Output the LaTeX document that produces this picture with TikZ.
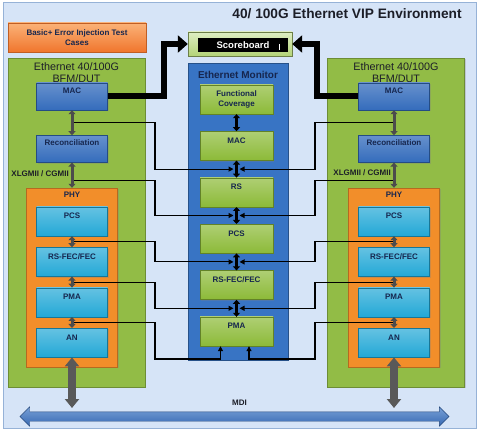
\documentclass[tikz,border=0pt]{standalone}
\usepackage{fontspec}
\setmainfont{Liberation Sans}
\usetikzlibrary{shapes,arrows.meta,calc,positioning,shadows}

\definecolor{envbg}{RGB}{214,228,247}
\definecolor{envline}{RGB}{150,178,215}
\definecolor{bfmgreen}{RGB}{146,188,70}
\definecolor{phyorange}{RGB}{242,142,42}
\definecolor{macblue}{RGB}{52,108,188}
\definecolor{pcscyan}{RGB}{35,168,214}
\definecolor{monblue}{RGB}{56,116,196}
\definecolor{mongreen}{RGB}{140,186,56}
\definecolor{testtop}{RGB}{251,178,120}
\definecolor{testbot}{RGB}{240,118,45}
\definecolor{sbtop}{RGB}{222,238,195}
\definecolor{sbbot}{RGB}{180,212,120}
\definecolor{navytext}{RGB}{22,38,78}
\definecolor{darktext}{RGB}{28,30,40}
\definecolor{mditop}{RGB}{120,160,215}
\definecolor{mdibot}{RGB}{55,105,178}

\begin{document}
\begin{tikzpicture}[x=1pt, y=1pt,
  shdw/.style={drop shadow={opacity=0.3, shadow xshift=1.2pt, shadow yshift=-1.2pt}},
  boxfont/.style={font=\fontsize{8}{10}\selectfont\bfseries, text=navytext},
  envtitle/.style={inner sep=0pt, font=\fontsize{13.7}{16}\selectfont\bfseries, text=darktext},
  testbox/.style={rectangle, draw=testbot!80!black, top color=testtop, bottom color=testbot,
    minimum width=138pt, minimum height=29pt, inner sep=0pt, align=center, boxfont, shdw},
  sbframe/.style={rectangle, draw=sbbot!60!black, top color=sbtop, bottom color=sbbot,
    minimum width=104pt, minimum height=24pt, inner sep=0pt, shdw},
  sbinner/.style={rectangle, fill=black, text=white, minimum width=90pt, minimum height=14pt,
    inner sep=0pt, font=\fontsize{9.5}{11}\selectfont\bfseries},
  bfm/.style={rectangle, draw=bfmgreen!75!black, fill=bfmgreen, minimum width=137pt,
    minimum height=329pt, shdw},
  bfmtitle/.style={inner sep=0pt, align=center, font=\fontsize{10.8}{12}\selectfont, text=darktext},
  phybox/.style={rectangle, draw=phyorange!75!black, fill=phyorange, minimum width=91pt,
    inner xsep=0pt, inner ysep=2pt, text height=8pt, text depth=167pt, boxfont, shdw},
  macbox/.style={rectangle, draw=macblue!70!black, top color=macblue!75!white, bottom color=macblue,
    minimum width=71pt, inner xsep=0pt, inner ysep=2pt, text height=8.5pt, text depth=14.5pt,
    boxfont, shdw},
  pcsbox/.style={rectangle, draw=pcscyan!70!black, top color=pcscyan!70!white, bottom color=pcscyan,
    minimum width=71pt, inner xsep=0pt, inner ysep=2pt, text height=10pt, text depth=15pt,
    boxfont, shdw},
  ifname/.style={inner sep=0pt, boxfont, text=darktext},
  monbox/.style={rectangle, draw=monblue!70!black, fill=monblue, minimum width=100pt,
    minimum height=297pt, shdw},
  montitle/.style={inner sep=0pt, font=\fontsize{10}{12}\selectfont\bfseries, text=navytext},
  mbox/.style={rectangle, draw=mongreen!70!black, top color=mongreen!70!white, bottom color=mongreen,
    minimum width=73pt, inner xsep=0pt, inner ysep=2pt, text height=10pt, text depth=15pt,
    boxfont, shdw},
  fcbox/.style={rectangle, draw=mongreen!70!black, top color=mongreen!70!white, bottom color=mongreen,
    minimum width=73pt, minimum height=29pt, inner sep=0pt, align=center, boxfont, shdw},
  mdibus/.style={double arrow, double arrow head extend=5pt, minimum height=429pt,
    inner xsep=0pt, inner ysep=4.5pt, draw=mdibot!70!black, top color=mditop, bottom color=mdibot},
  monlink/.style={line width=1.1pt, black, ->, >={Triangle[width=5pt,length=5pt]}},
  bfmarrow/.style={line width=3pt, black!70, <->, >={Triangle[width=7pt,length=4pt]}},
  monarrow/.style={line width=2.5pt, black, <->, >={Triangle[width=7pt,length=4pt]}},
  sbarrow/.style={line width=6pt, black, line join=miter, ->, >={Triangle[width=17pt,length=10pt]}},
  mdiarrow/.style={line width=8pt, black!65, <->, >={Triangle[width=14pt,length=9pt]}}
  ]
  \useasboundingbox (0,0) rectangle (480,-433);
  \draw[fill=envbg, draw=envline, line width=1pt] (3,-3) rectangle (476,-428);

  \node[envtitle] (title) at (347,-14) {40/ 100G Ethernet VIP Environment};
  \node[testbox] (tests) at (77,-37.5) {Basic+ Error Injection Test\\Cases};

  % scoreboard
  \node[sbframe] (sbox) at (240,-44) {};
  \node[sbinner] (score) at (243,-45) {Scoreboard\hspace{6pt}};
  \draw[white, line width=1pt] ([xshift=-9pt,yshift=1pt]score.east) -- ++(0,-6);

  % left BFM/DUT
  \node[bfm] (lbfm) at (76.5,-222.5) {};
  \node[bfmtitle, below=5pt of lbfm.north] (lbfmtl) {Ethernet 40/100G\\BFM/DUT};
  \node[macbox] (lmac) at (72,-96.5) {MAC};
  \node[macbox, below=25pt of lmac] (lrec) {Reconciliation};
  \node[phybox] (lphy) at (72,-277.5) {PHY};
  \node[pcsbox] (lpcs) at (72,-221.5) {PCS};
  \node[pcsbox, below=11pt of lpcs] (lfec) {RS-FEC/FEC};
  \node[pcsbox, below=11pt of lfec] (lpma) {PMA};
  \node[pcsbox, below=11pt of lpma] (lan) {AN};

  % right BFM/DUT
  \node[bfm] (rbfm) at (396,-222.5) {};
  \node[bfmtitle, below=5pt of rbfm.north] (rbfmtl) {Ethernet 40/100G\\BFM/DUT};
  \node[macbox] (rmac) at (394,-96.5) {MAC};
  \node[macbox, below=25pt of rmac] (rrec) {Reconciliation};
  \node[phybox] (rphy) at (394,-277.5) {PHY};
  \node[pcsbox] (rpcs) at (394,-221.5) {PCS};
  \node[pcsbox, below=11pt of rpcs] (rfec) {RS-FEC/FEC};
  \node[pcsbox, below=11pt of rfec] (rpma) {PMA};
  \node[pcsbox, below=11pt of rpma] (ran) {AN};

  % monitor
  \node[monbox] (mon) at (238,-211.5) {};
  \node[montitle, below=8.5pt of mon.north] (montl) {Ethernet Monitor};
  \node[fcbox] (mfc) at (236.5,-99.5) {Functional\\Coverage};
  \node[mbox, below=17pt of mfc] (mmac) {MAC};
  \node[mbox, below=17pt of mmac] (mrs) {RS};
  \node[mbox, below=17pt of mrs] (mpcs) {PCS};
  \node[mbox, below=17pt of mpcs] (mfec) {RS-FEC/FEC};
  \node[mbox, below=17pt of mfec] (mpma) {PMA};

  % MDI
  \node[mdibus] (mdi) at (234.5,-416.5) {};
  \node[ifname] (mdilbl) at (239.5,-403) {MDI};

  \coordinate (l1) at ($(lmac.south)!0.5!(lrec.north)$);
  \coordinate (l2) at ($(lrec.south)!0.7!(lphy.north)$);
  \coordinate (l3) at ($(lpcs.south)!0.5!(lfec.north)$);
  \coordinate (l4) at ($(lfec.south)!0.5!(lpma.north)$);
  \coordinate (l5) at ($(lpma.south)!0.5!(lan.north)$);
  \coordinate (r1) at ($(rmac.south)!0.5!(rrec.north)$);
  \coordinate (r2) at ($(rrec.south)!0.7!(rphy.north)$);
  \coordinate (r3) at ($(rpcs.south)!0.5!(rfec.north)$);
  \coordinate (r4) at ($(rfec.south)!0.5!(rpma.north)$);
  \coordinate (r5) at ($(rpma.south)!0.5!(ran.north)$);
  \coordinate (j1) at ($(mmac.south)!0.5!(mrs.north)$);
  \coordinate (j2) at ($(mrs.south)!0.5!(mpcs.north)$);
  \coordinate (j3) at ($(mpcs.south)!0.5!(mfec.north)$);
  \coordinate (j4) at ($(mfec.south)!0.5!(mpma.north)$);
  \coordinate (lgap) at (155,0);
  \coordinate (rgap) at (315,0);
  \coordinate (low) at (0,-359);
  \coordinate (busy) at (0,-408);
  \coordinate (lbend) at (163.5,0);
  \coordinate (rbend) at (317,0);

  \node[ifname, anchor=east] (lxl) at ([xshift=-3pt]$(lrec.south)!0.45!(lphy.north)$) {XLGMII / CGMII};
  \node[ifname, anchor=east] (rxl) at ([xshift=-3pt]$(rrec.south)!0.4!(rphy.north)$) {XLGMII / CGMII};

  % taps into the monitor
  \draw[monlink] (l1) -| (lgap |- j1) -- ([xshift=-3pt]j1);
  \draw[monlink] (l2) -| (lgap |- j2) -- ([xshift=-3pt]j2);
  \draw[monlink] (l3) -| (lgap |- j3) -- ([xshift=-3pt]j3);
  \draw[monlink] (l4) -| (lgap |- j4) -- ([xshift=-3pt]j4);
  \draw[monlink] (l5) -| (lgap |- low) -| ([xshift=-16pt]mpma.south);
  \draw[monlink] (r1) -| (rgap |- j1) -- ([xshift=3pt]j1);
  \draw[monlink] (r2) -| (rgap |- j2) -- ([xshift=3pt]j2);
  \draw[monlink] (r3) -| (rgap |- j3) -- ([xshift=3pt]j3);
  \draw[monlink] (r4) -| (rgap |- j4) -- ([xshift=3pt]j4);
  \draw[monlink] (r5) -| (rgap |- low) -| ([xshift=12.5pt]mpma.south);

  \draw[sbarrow] (lmac.east) -| (lbend |- sbox) -- (sbox.west);
  \draw[sbarrow] (rmac.west) -| (rbend |- sbox) -- (sbox.east);

  \draw[bfmarrow] (lmac) -- (lrec);
  \draw[bfmarrow] (lrec) -- (lphy);
  \draw[bfmarrow] (lpcs) -- (lfec);
  \draw[bfmarrow] (lfec) -- (lpma);
  \draw[bfmarrow] (lpma) -- (lan);
  \draw[bfmarrow] (rmac) -- (rrec);
  \draw[bfmarrow] (rrec) -- (rphy);
  \draw[bfmarrow] (rpcs) -- (rfec);
  \draw[bfmarrow] (rfec) -- (rpma);
  \draw[bfmarrow] (rpma) -- (ran);

  \draw[monarrow] (mfc) -- (mmac);
  \draw[monarrow] (mmac) -- (mrs);
  \draw[monarrow] (mrs) -- (mpcs);
  \draw[monarrow] (mpcs) -- (mfec);
  \draw[monarrow] (mfec) -- (mpma);

  \draw[mdiarrow] (lan) -- (lan |- busy);
  \draw[mdiarrow] (ran) -- (ran |- busy);
\end{tikzpicture}
\end{document}
